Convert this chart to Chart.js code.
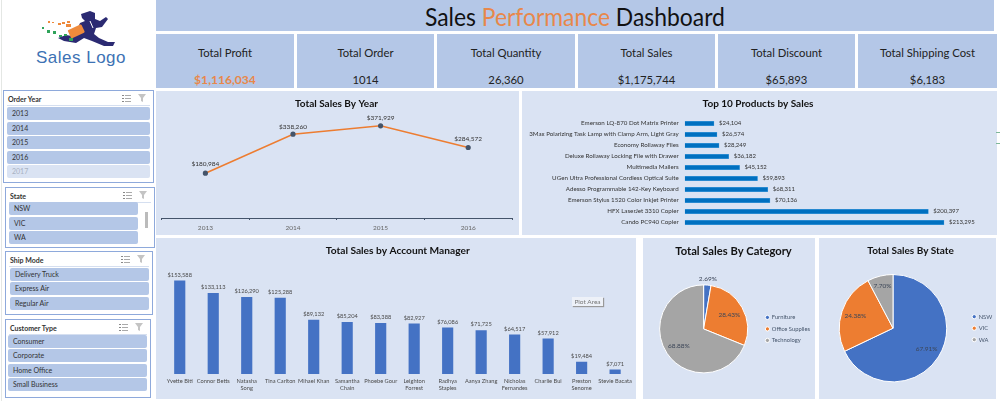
<!DOCTYPE html>
<html>
<head>
<meta charset="utf-8">
<title>Sales Performance Dashboard</title>
<script src="https://cdn.jsdelivr.net/npm/chart.js@4"></script>
<style>
html, body { margin: 0; padding: 0; background: #fff; overflow: hidden; }
#page { position: relative; width: 1000px; height: 401px; overflow: hidden; font-family: Lato, sans-serif; color: #222; background: #fff; filter: blur(0.3px); }
.box { position: absolute; box-sizing: border-box; }
.band { background: #B4C7E7; }
.panel { background: #DAE3F3; }
canvas { position: absolute; display: block; }
#title { left: 156px; top: 0; width: 838px; height: 31px; line-height: 33px; text-align: center; font-size: 25px; color: #111; }
#title div { display: inline-block; transform: scaleX(0.915); }
#title span { color: #E8874A; }
.kpi { top: 34px; height: 54px; text-align: center; font-size: 11.3px; }
.kpi .name { position: absolute; left: 0; right: 0; top: 11px; line-height: 16px; }
.kpi .val { position: absolute; left: 0; right: 0; top: 38px; line-height: 16px; }
.kpi .val.hot { color: #E8874A; font-weight: bold; font-size: 12.1px; }
.slicer { background: #fff; border: 1px solid #8EA9DB; }
.slicer .head { position: absolute; left: 4px; top: 4px; font-size: 7px; font-weight: bold; color: #333; }
.slicer .rule { position: absolute; left: 3px; right: 3px; top: 14px; height: 1px; background: #D5DFF0; }
.slicer .item { position: absolute; box-sizing: border-box; height: 13px; line-height: 13px; padding-left: 5px; font-size: 7px; background: #B4C7E7; color: #333; border-radius: 2px; }
.slicer .item.off { background: #DAE3F3; color: #A9B2C2; }
.slicer svg { position: absolute; top: 3px; }
#tip { left: 572px; top: 297px; width: 31px; height: 9px; background: #EDF1F8; box-shadow: 1px 1px 1px #999; font-size: 6.5px; line-height: 9px; text-align: center; color: #777; }
</style>
</head>
<body>
<div id="page">
  <div class="box" style="left:1px;top:0;width:1px;height:401px;background:#E4E7E4"></div>
  <svg class="box" style="left:0;top:0" width="156" height="80">
    <path fill="#2B2A72" d="M81 14 L90 11 L95 13 L95 19 L100 21 L106 17 L108 19 L102 27 L96 28 L94 34 L99 38 L108 42 L115 42 L113 46 L104 46 L92 41 L84 38 L76 43 L64 41 L58 38 L66 35 L72 36 L77 30 L80 23 L85 21 L82 18 Z"/>
    <path d="M90 21 L93 28" stroke="#fff" stroke-width="1"/>
    <rect x="69" y="27" width="15" height="9" rx="1" fill="#EE8A3C" transform="rotate(-25 76 32)"/>
    <g fill="#EE8A3C"><rect x="48" y="21" width="2" height="2"/><rect x="52" y="22" width="2" height="1"/><rect x="58" y="23" width="3" height="2"/><rect x="62" y="22" width="3" height="2"/><rect x="66" y="24" width="5" height="3"/><rect x="67" y="21" width="3" height="2"/></g>
    <g fill="#2FA35A"><rect x="42" y="27" width="2" height="2"/><rect x="47" y="30" width="3" height="3"/><rect x="53" y="31" width="3" height="3"/><rect x="59" y="35" width="3" height="2"/><rect x="64" y="34" width="3" height="2"/><rect x="69" y="38" width="4" height="3"/></g>
    <text x="81" y="63" text-anchor="middle" font-family="Liberation Sans" font-size="17" letter-spacing="0.5" fill="#3D72B4">Sales Logo</text>
  </svg>
  <div id="title" class="box band"><div>Sales <span>Performance</span> Dashboard</div></div>
  <div id="kpis"></div>
  <div id="slicers"></div>
  <div class="box panel" style="left:156px;top:91px;width:363px;height:144px"><canvas id="byYear" width="363" height="144"></canvas></div>
  <div class="box panel" style="left:522px;top:91px;width:475px;height:144px"><canvas id="byProduct" width="475" height="144"></canvas></div>
  <div class="box panel" style="left:156px;top:238px;width:480px;height:161px"><canvas id="byManager" width="480" height="161"></canvas></div>
  <div class="box panel" style="left:643px;top:238px;width:172px;height:161px"><canvas id="byCategory" width="172" height="161"></canvas></div>
  <div class="box panel" style="left:819px;top:238px;width:177px;height:161px"><canvas id="byState" width="177" height="161"></canvas></div>
  <div id="tip" class="box">Plot Area</div>
  <div class="box" style="left:996px;top:132px;width:4px;height:1px;background:#7FB79A"></div>
  <div class="box" style="left:996px;top:143px;width:4px;height:1px;background:#7FB79A"></div>
</div>
<script>
var kpiNames = ['Total Profit', 'Total Order', 'Total Quantity', 'Total Sales', 'Total Discount', 'Total Shipping Cost'];
var kpiValues = ['$1,116,034', '1014', '26,360', '$1,175,744', '$65,893', '$6,183'];

var orderYears = ['2013', '2014', '2015', '2016', '2017'];
var states = ['NSW', 'VIC', 'WA'];
var shipModes = ['Delivery Truck', 'Express Air', 'Regular Air'];
var customerTypes = ['Consumer', 'Corporate', 'Home Office', 'Small Business'];

var yearLabels = ['2013', '2014', '2015', '2016'];
var yearSales = [180984, 338260, 371929, 284572];

var productNames = [
    'Emerson LQ-870 Dot Matrix Printer',
    '3Max Polarizing Task Lamp with Clamp Arm, Light Gray',
    'Economy Rollaway Files',
    'Deluxe Rollaway Locking File with Drawer',
    'Multimedia Mailers',
    'UGen Ultra Professional Cordless Optical Suite',
    'Adesso Programmable 142-Key Keyboard',
    'Emerson Stylus 1520 Color Inkjet Printer',
    'HFX LaserJet 3310 Copier',
    'Cando PC940 Copier'
];
var productSales = [24104, 26574, 28249, 36182, 45152, 59893, 68311, 70136, 200397, 213295];

var managerNames = [
    'Yvette Biti', 'Connor Betts', ['Natasha', 'Song'], 'Tina Carlton', 'Mihael Khan',
    ['Samantha', 'Chain'], 'Phoebe Gour', ['Leighton', 'Forrest'], ['Radhya', 'Staples'],
    'Aanya Zhang', ['Nicholas', 'Fernandes'], 'Charlie Bui', ['Preston', 'Senome'], 'Stevie Bacata'
];
var managerSales = [153588, 133113, 126290, 125288, 89132, 85204, 83388, 82927, 76086, 71725, 64517, 57912, 19484, 7071];

var categoryNames = ['Furniture', 'Office Supplies', 'Technology'];
var categoryShare = [2.69, 28.43, 68.88];
var stateNames = ['NSW', 'VIC', 'WA'];
var stateShare = [67.91, 24.38, 7.70];

var BLUE = '#4472C4', ORANGE = '#ED7D31', GREY = '#A5A5A5';
var FONT = 'Lato, sans-serif';

Chart.defaults.font.family = FONT;
Chart.defaults.animation = false;
Chart.defaults.responsive = false;
Chart.defaults.plugins.legend.display = false;
Chart.defaults.plugins.tooltip.enabled = false;

function money(v) { return '$' + v.toLocaleString('en-US'); }

// KPI cards
var kpiBoxes = [[156, 138], [297, 137], [437, 138], [578, 137], [718, 137], [858, 139]];
var kpiHtml = '';
kpiNames.forEach(function (name, i) {
    kpiHtml += '<div class="box band kpi" style="left:' + kpiBoxes[i][0] + 'px;width:' + kpiBoxes[i][1] + 'px">' +
        '<div class="name">' + name + '</div><div class="val' + (i == 0 ? ' hot' : '') + '">' + kpiValues[i] + '</div></div>';
});
document.getElementById('kpis').innerHTML = kpiHtml;

// slicers down the left side
function icons(w) {
    return '<svg style="left:' + (w - 33) + 'px" width="9" height="9"><path d="M3 1.5H9M3 4.5H9M3 7.5H9" stroke="#aaa" stroke-width="1"/><path d="M0 1.5H2M0 4.5H2M0 7.5H2" stroke="#888" stroke-width="1"/></svg>' +
        '<svg style="left:' + (w - 17) + 'px" width="9" height="9"><path d="M0 0H8L5 4V8L3 7V4Z" fill="#C4C4C4"/></svg>';
}
function slicer(name, items, x, y, w, h, itemX, itemW, itemY, extra) {
    var html = '<div class="box slicer" style="left:' + x + 'px;top:' + y + 'px;width:' + w + 'px;height:' + h + 'px">' +
        '<div class="head">' + name + '</div><div class="rule"></div>' + icons(w);
    items.forEach(function (t, i) {
        var off = t == '2017' ? ' off' : '';
        html += '<div class="item' + off + '" style="left:' + itemX + 'px;width:' + itemW + 'px;top:' + (itemY + i * 14.5) + 'px">' + t + '</div>';
    });
    return html + (extra || '') + '</div>';
}
document.getElementById('slicers').innerHTML =
    slicer('Order Year', orderYears, 3, 90, 151, 93, 3, 143, 16) +
    slicer('State', states, 5, 187, 150, 61, 3, 129, 14, '<div style="position:absolute;left:139px;top:24px;width:3px;height:16px;background:#BBB"></div>') +
    slicer('Ship Mode', shipModes, 5, 251, 148, 64, 4, 139, 15.5) +
    slicer('Customer Type', customerTypes, 5, 319, 146, 79, 2, 139, 14.5);

// writes value labels next to the marks, the marks come from the library
var valueTags = {
    id: 'valueTags',
    afterDatasetsDraw: function (chart, args, opts) {
        var ctx = chart.ctx;
        var meta = chart.getDatasetMeta(0);
        var data = chart.data.datasets[0].data;
        ctx.save();
        ctx.font = opts.size + 'px ' + FONT;
        ctx.fillStyle = opts.color;
        meta.data.forEach(function (el, i) {
            if (opts.pie) {
                var mid = (el.startAngle + el.endAngle) / 2;
                var r = el.outerRadius * opts.reach[i];
                ctx.textAlign = 'center';
                ctx.textBaseline = 'middle';
                ctx.fillText(data[i].toFixed(2) + '%', el.x + Math.cos(mid) * r, el.y + Math.sin(mid) * r);
            } else if (opts.side) {
                ctx.textAlign = 'left';
                ctx.textBaseline = 'middle';
                ctx.fillText(money(data[i]), el.x + opts.gap, el.y);
            } else {
                ctx.textAlign = 'center';
                ctx.textBaseline = 'bottom';
                var lift = opts.lift ? opts.lift[i] : opts.gap;
                ctx.fillText(money(data[i]), el.x, el.y - lift);
            }
        });
        ctx.restore();
    }
};

function heading(text, size, below) {
    return { display: true, text: text, color: '#111', font: { size: size, weight: 'bold', family: FONT }, padding: { top: 7, bottom: below } };
}

new Chart(document.getElementById('byYear').getContext('2d'), {
    type: 'line',
    plugins: [valueTags],
    data: {
        labels: yearLabels,
        datasets: [{
            data: yearSales,
            borderColor: ORANGE,
            borderWidth: 1.6,
            tension: 0,
            pointRadius: 1.8,
            pointBackgroundColor: '#44546A',
            pointBorderColor: '#44546A'
        }]
    },
    options: {
        layout: { padding: { left: 5, right: 7 } },
        plugins: {
            title: heading('Total Sales By Year', 10, 5.4),
            valueTags: { size: 6.5, color: '#333', lift: [6, 4, 5, 5] }
        },
        scales: {
            y: { display: false, min: 0, max: 414000 },
            x: {
                offset: true,
                afterFit: function (s) { s.height = 17; },
                border: { color: '#44546A', width: 1 },
                grid: { offset: true, drawOnChartArea: false, tickLength: 2, color: '#44546A' },
                ticks: { color: '#666', font: { size: 6.5 }, padding: 4 }
            }
        }
    }
});

new Chart(document.getElementById('byProduct').getContext('2d'), {
    type: 'bar',
    plugins: [valueTags],
    data: {
        labels: productNames,
        datasets: [{ data: productSales, backgroundColor: '#0070C0', borderColor: '#4FA3E0', borderWidth: 0.5, barThickness: 4.5 }]
    },
    options: {
        indexAxis: 'y',
        layout: { padding: { right: 3, bottom: 7 } },
        plugins: {
            title: heading('Top 10 Products by Sales', 10, 8),
            valueTags: { size: 6, color: '#333', side: true, gap: 5 }
        },
        scales: {
            x: { display: false, min: 0, max: 254400 },
            y: {
                afterFit: function (s) { s.width = 162.7; },
                border: { display: false },
                // tick padding would also shrink the plot height, so the gap comes from tickLength
                grid: { display: false, tickLength: 6 },
                ticks: { color: '#333', font: { size: 6.2 }, padding: 0, autoSkip: false }
            }
        }
    }
});

new Chart(document.getElementById('byManager').getContext('2d'), {
    type: 'bar',
    plugins: [valueTags],
    data: {
        labels: managerNames,
        datasets: [{ data: managerSales, backgroundColor: BLUE, barThickness: 10.5 }]
    },
    options: {
        layout: { padding: { left: 7, right: 3.5 } },
        plugins: {
            title: heading('Total Sales by Account Manager', 10.2, 5.2),
            valueTags: { size: 5.7, color: '#4A4A4A', gap: 3 }
        },
        scales: {
            y: { display: false, min: 0, max: 184000 },
            x: {
                afterFit: function (s) { s.height = 25; },
                border: { display: false },
                grid: { display: false, tickLength: 0 },
                ticks: { color: '#4A4A4A', font: { size: 5.7 }, padding: 4, autoSkip: false, maxRotation: 0 }
            }
        }
    }
});

function pie(id, title, size, names, share, colors, radius, reach, pad) {
    new Chart(document.getElementById(id).getContext('2d'), {
        type: 'pie',
        plugins: [valueTags],
        data: {
            labels: names,
            datasets: [{ data: share, backgroundColor: colors, borderColor: '#fff', borderWidth: 1 }]
        },
        options: {
            radius: radius,
            layout: { padding: pad },
            plugins: {
                title: heading(title, size, 4.4),
                valueTags: { size: 6.5, color: '#3C4658', pie: true, reach: reach },
                legend: {
                    display: true,
                    position: 'right',
                    fullSize: false,
                    labels: { usePointStyle: true, pointStyle: 'circle', boxWidth: 3, boxHeight: 3, padding: 5.7, color: '#44546A', font: { size: 5.8 } }
                }
            }
        }
    });
}
pie('byCategory', 'Total Sales By Category', 11.2, categoryNames, categoryShare, [BLUE, ORANGE, GREY], 44, [1.14, 0.67, 0.68], { left: 4, right: -5, bottom: 4 });
pie('byState', 'Total Sales By State', 10, stateNames, stateShare, [BLUE, ORANGE, GREY], 53.7, [0.74, 0.74, 0.82], { right: -6.2, bottom: 4 });
</script>
</body>
</html>
